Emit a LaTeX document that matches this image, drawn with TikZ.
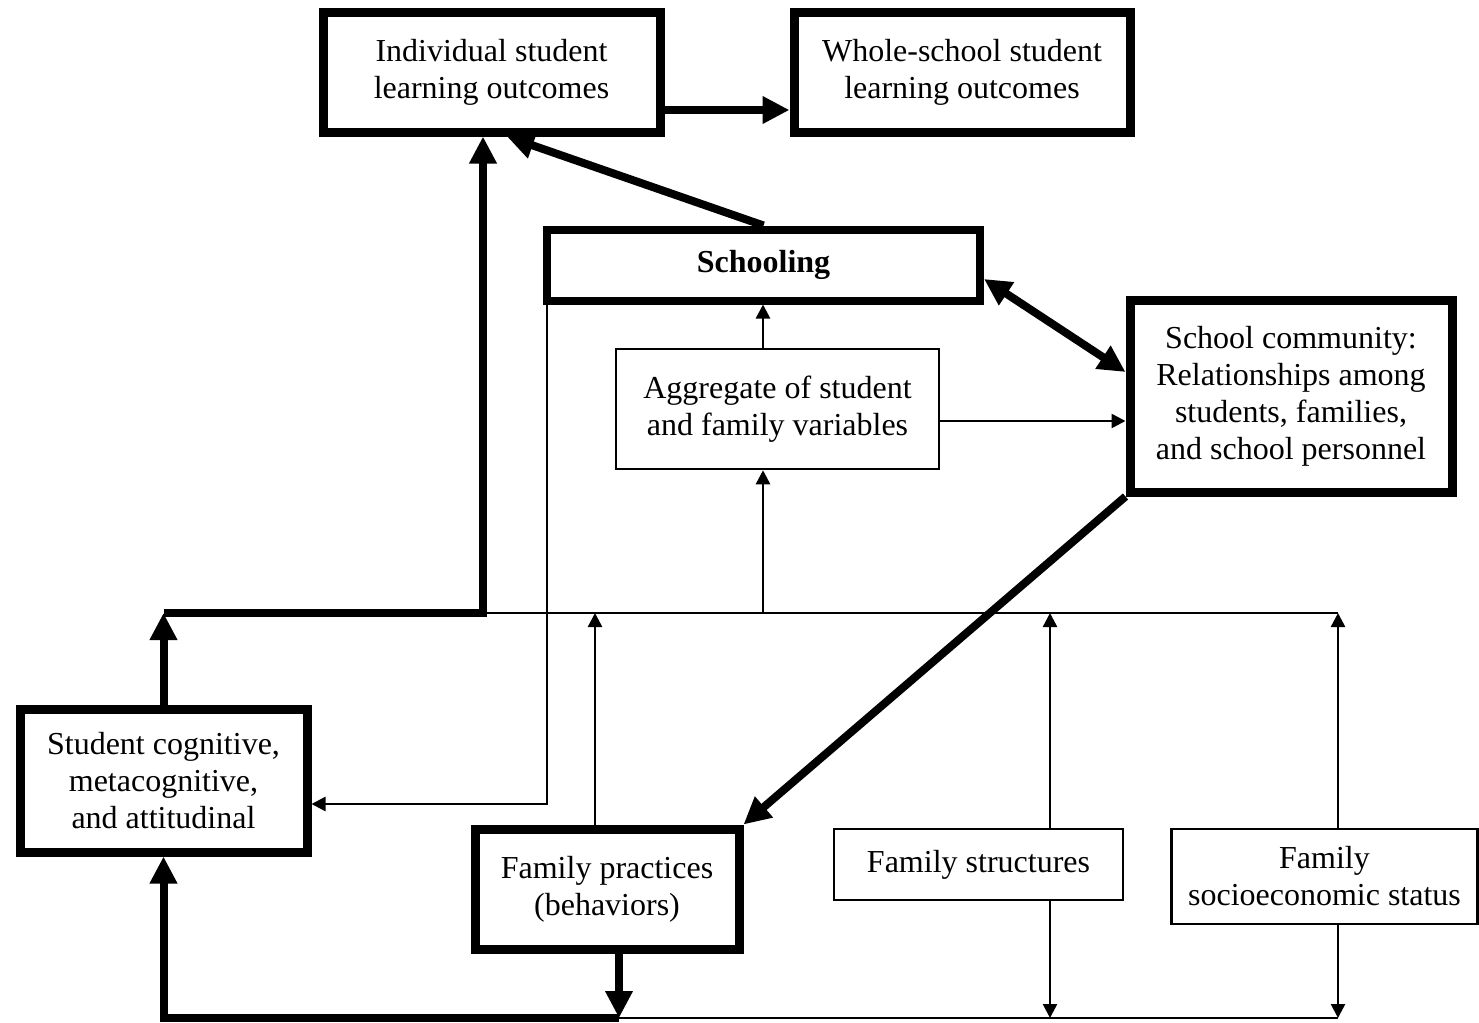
\documentclass[tikz,border=0pt]{standalone}
\usepackage{fontspec}
\setmainfont{Liberation Serif}
\usetikzlibrary{arrows.meta}

\begin{document}
\begin{tikzpicture}[x=1pt,y=-1pt,font=\fontsize{32}{37}\selectfont,
    thickbox/.style={draw,line width=9pt,align=center,inner sep=0pt},
    thinbox/.style={draw,line width=2.5pt,align=center,inner sep=0pt},
    thickline/.style={line width=8pt},
    thinline/.style={line width=2.5pt},
    thickarrow/.style={thickline,-{Triangle[length=27pt,width=26pt]}},
    thinarrow/.style={thinline,-{Triangle[length=14pt,width=14pt]}}]
      \useasboundingbox (0,0) rectangle (1479,1022);
      \node[thickbox,minimum width=337pt,minimum height=119pt] (ind) at (491.5,72.5) {Individual student\\learning outcomes};
      \node[thickbox,minimum width=336pt,minimum height=119pt] (whole) at (962,72.5) {Whole-school student\\learning outcomes};
      \node[thickbox,line width=8pt,minimum width=433pt,minimum height=71pt] (school) at (763.5,265) {\textbf{Schooling}};
      \node[thinbox,minimum width=323pt,minimum height=120pt] (agg) at (777.5,409) {Aggregate of student\\and family variables};
      \node[thickbox,minimum width=322pt,minimum height=192pt] (comm) at (1291,396) {School community:\\Relationships among\\students, families,\\and school personnel};
      \node[thickbox,minimum width=287pt,minimum height=143pt] (cog) at (163.5,780.5) {Student cognitive,\\metacognitive,\\and attitudinal};
      \node[thickbox,minimum width=264pt,minimum height=120pt] (fp) at (607,889) {Family practices\\(behaviors)};
      \node[thinbox,minimum width=289pt,minimum height=71pt] (fs) at (978.5,864.5) {Family structures};
      \node[thinbox,minimum width=306pt,minimum height=95pt] (ses) at (1324.5,876.5) {Family\\socioeconomic status};
      \coordinate (jl) at (163.5,613);
      \coordinate (jm) at (483,613);
      \coordinate (jr) at (1338,613);
      \coordinate (bfp) at (595,613);
      \coordinate (bagg) at (763,613);
      \coordinate (bfs) at (1050,613);
      \coordinate (bl) at (163.5,1018);
      \coordinate (bm) at (619,1018);
      \coordinate (bfs2) at (1050,1018);
      \coordinate (br) at (1338,1018);
      \coordinate (sc) at (547,804);
      \draw[thickarrow] ([yshift=-37.5pt]ind.east) -- ([yshift=-37.5pt]whole.west);
      \draw[thickarrow] (school.north) -- ([xshift=15.5pt]ind.south);
      \draw[thickarrow] (cog.north) -- (jl);
      \draw[thickarrow] (jl) -- (jm) -- (jm |- ind.south);
      \draw[thinline] (jm) -- (jr);
      \draw[thinarrow] (bfp |- fp.north) -- (bfp);
      \draw[thinarrow] (bagg) -- (bagg |- agg.south);
      \draw[thinarrow] (bagg |- agg.north) -- (bagg |- school.south);
      \draw[thinarrow] (bfs |- fs.north) -- (bfs);
      \draw[thinarrow] (bfs |- fs.south) -- (bfs2);
      \draw[thinarrow] (jr |- ses.north) -- (jr);
      \draw[thinarrow] (jr |- ses.south) -- (br);
      \draw[thinline] (bm) -- (br);
      \draw[thickarrow] (bm |- fp.south) -- (bm);
      \draw[thickarrow] (bm) -- (bl) -- (cog.south);
      \draw[thinarrow] (sc |- school.south) -- (sc) -- (sc -| cog.east);
      \draw[thinarrow] (agg.east |- 0,421) -- (comm.west |- 0,421);
      \draw[thickline,{Triangle[length=27pt,width=26pt]}-{Triangle[length=27pt,width=26pt]}] (school.east |- 0,279) -- (comm.west |- 0,372);
      \draw[thickarrow] (comm.south west) -- (fp.north east);
    \end{tikzpicture}
\end{document}
